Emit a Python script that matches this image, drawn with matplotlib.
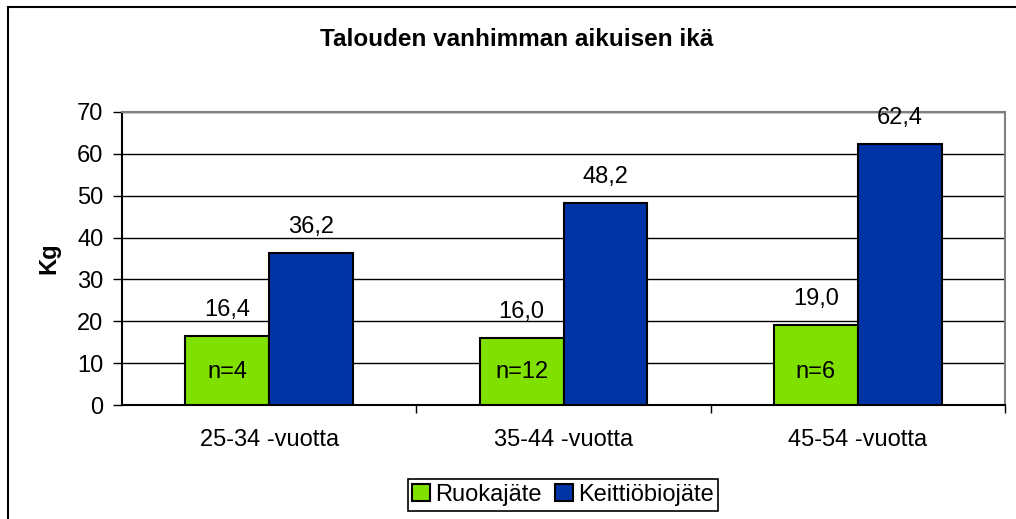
import numpy as np
import matplotlib.pyplot as plt
from matplotlib.patches import Rectangle

plt.rcParams['font.family'] = ['Liberation Sans', 'DejaVu Sans']

# data
categories = ['25-34 -vuotta', '35-44 -vuotta', '45-54 -vuotta']
ruoka = [16.4, 16.0, 19.0]
keittio = [36.2, 48.2, 62.4]
n_labels = ['n=4', 'n=12', 'n=6']
series_names = ['Ruokajäte', 'Keittiöbiojäte']

green = '#80E000'
blue = '#0033A5'
fs = 17

W, H = 1016, 519
fig = plt.figure(figsize=(W / 100, H / 100), dpi=100)
ax = fig.add_axes([122 / W, (H - 405) / H, 883 / W, 293 / H])

x = np.arange(len(categories))
bw = 0.285
b1 = ax.bar(x - bw / 2, ruoka, bw, color=green, edgecolor='black', linewidth=1.5, label=series_names[0], zorder=3)
b2 = ax.bar(x + bw / 2, keittio, bw, color=blue, edgecolor='black', linewidth=1.5, label=series_names[1], zorder=3)

for rects, vals in [(b1, ruoka), (b2, keittio)]:
    for r, v in zip(rects, vals):
        ax.annotate(f'{v:.1f}'.replace('.', ','), (r.get_x() + r.get_width() / 2, v),
                    xytext=(0, 11), textcoords='offset points', ha='center', va='bottom', fontsize=fs)

for r, t in zip(b1, n_labels):
    ax.text(r.get_x() + r.get_width() / 2, 8, t, ha='center', va='center', fontsize=fs, zorder=4)

ax.set_xlim(-0.5, 2.5)
ax.set_ylim(0, 70)
ax.set_yticks(range(0, 71, 10))
ax.yaxis.grid(True, color='black', linewidth=1)
ax.set_axisbelow(True)
ax.set_xticks(x)
ax.set_xticklabels(categories, fontsize=fs)
ax.set_xticks([0.5, 1.5, 2.5], minor=True)
ax.tick_params(axis='x', which='major', length=0, pad=17)
ax.tick_params(axis='x', which='minor', length=6, width=1, direction='out')
ax.tick_params(axis='y', length=6.5, width=1, labelsize=fs, pad=7)
ax.set_ylabel('Kg', fontsize=fs, fontweight='bold', labelpad=12)
for s in ['top', 'right']:
    ax.spines[s].set_color('#808080')
    ax.spines[s].set_linewidth(1.5)
for s in ['left', 'bottom']:
    ax.spines[s].set_linewidth(1.5)

fig.text(517 / W, 1 - 40 / H, 'Talouden vanhimman aikuisen ikä', ha='center', va='center',
         fontsize=17.5, fontweight='bold')

leg = ax.legend(loc='center', bbox_to_anchor=(563 / W, 1 - 495 / H), bbox_transform=fig.transFigure,
                ncol=2, fontsize=fs, frameon=True, fancybox=False, edgecolor='black', framealpha=1,
                handlelength=0.75, handleheight=0.75, handletextpad=0.2, columnspacing=0.6, borderpad=0.2,
                borderaxespad=0)
leg.get_frame().set_linewidth(1.2)

# outer chart border
fig.patches.append(Rectangle((8 / W, -0.05), 1.05, 1 - 7 / H + 0.05, transform=fig.transFigure,
                             fill=False, edgecolor='black', linewidth=1.5))

fig.savefig('out.png', dpi=100)
